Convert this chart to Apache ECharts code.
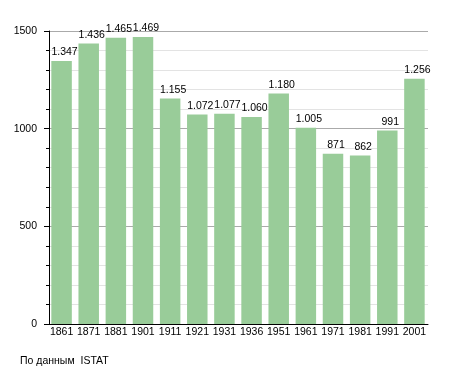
<!DOCTYPE html>
<html><head><meta charset="utf-8">
<script src="https://cdn.jsdelivr.net/npm/echarts@6/dist/echarts.min.js"></script>
<style>html,body{margin:0;padding:0;background:#fff}#c{width:455px;height:373px}</style>
</head><body><div id="c"></div>
<script>
const years = ['1861','1871','1881','1901','1911','1921','1931','1936','1951','1961','1971','1981','1991','2001'];
const population = [1347,1436,1465,1469,1155,1072,1077,1060,1180,1005,871,862,991,1256];
const yTicks = [0,500,1000,1500];
const sourceText = 'По данным  ISTAT';

function fmt(v){ return String(v).replace(/\B(?=(\d{3})+(?!\d))/g,'.'); }

const F = 'Liberation Sans, Arial, sans-serif';
const chart = echarts.init(document.getElementById('c'));
chart.setOption({
  animation:false,
  textStyle:{fontFamily:F},
  grid:{left:48,right:27,top:31,bottom:49,containLabel:false},
  graphic:[{type:'text',left:20,top:356,style:{text:sourceText,fontSize:10.5,fill:'#000',fontFamily:F}}],
  xAxis:{type:'category',data:years,
    axisLine:{lineStyle:{color:'#000',width:1}},
    axisTick:{show:false},
    axisLabel:{color:'#000',fontSize:10.5,margin:3,fontFamily:F,interval:0}},
  yAxis:{type:'value',min:0,max:1500,interval:500,offset:-1,
    axisLine:{show:true,lineStyle:{color:'#000'}},
    axisTick:{show:true,length:5,lineStyle:{color:'#000'}},
    minorTick:{show:true,splitNumber:5,length:3,lineStyle:{color:'#000'}},
    splitLine:{show:true,lineStyle:{color:'#aaaaaa',width:1}},
    minorSplitLine:{show:true,lineStyle:{color:'#e3e3e3',width:1}},
    axisLabel:{color:'#000',fontSize:10.5,margin:12,fontFamily:F,
      formatter:v=>String(v)}},
  series:[{type:'bar',data:population,barCategoryGap:'24.5%',
    itemStyle:{color:'#99cc99'},
    label:{show:true,position:'top',distance:3,offset:[3,0],color:'#000',fontSize:10.5,
      fontFamily:F,formatter:p=>fmt(p.value)}}]
});
</script></body></html>
